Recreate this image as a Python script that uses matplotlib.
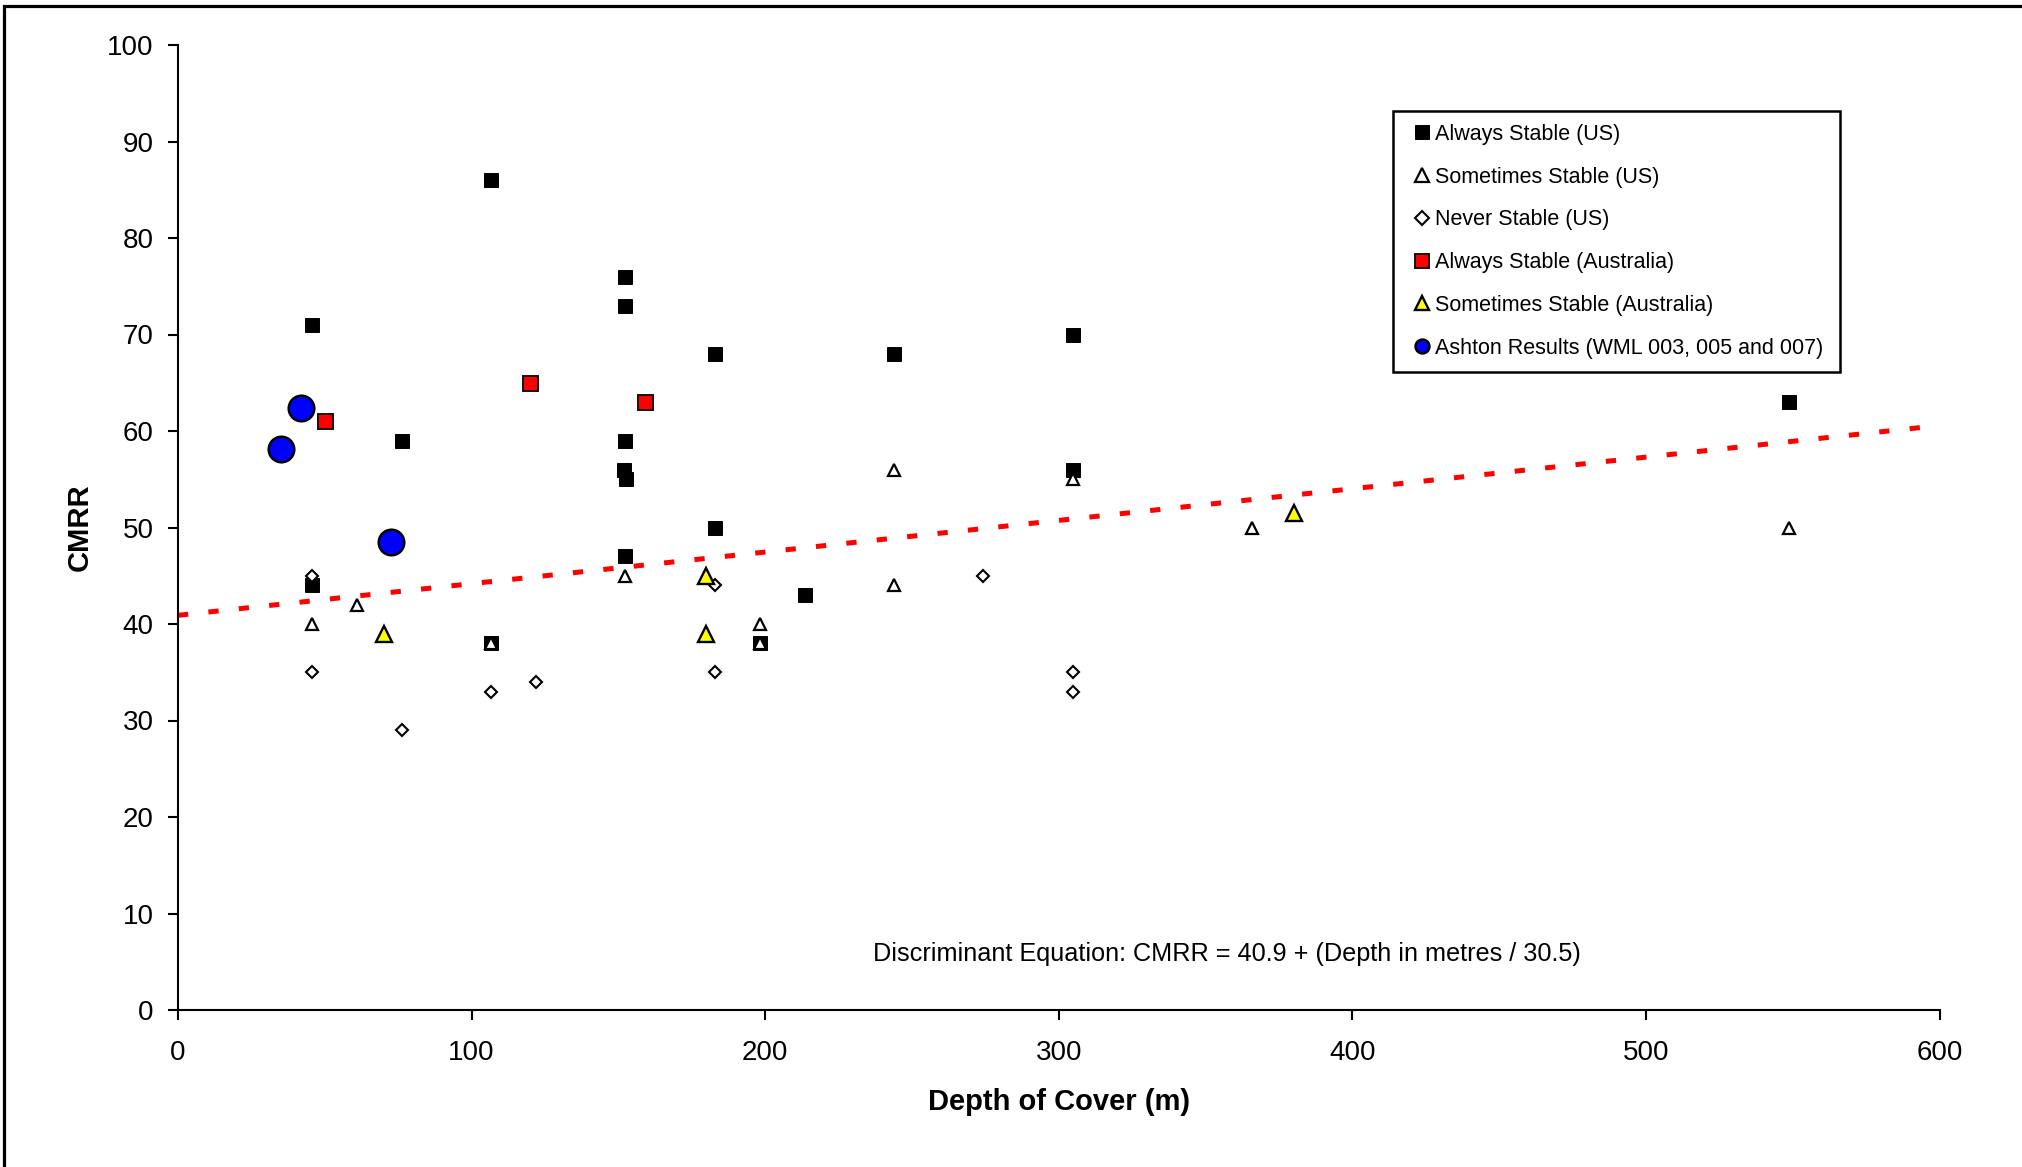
import matplotlib
matplotlib.use("Agg")
import matplotlib.pyplot as plt
from matplotlib.patches import Rectangle
import numpy as np

plt.rcParams['font.family'] = ['Liberation Sans', 'DejaVu Sans']
plt.rcParams['lines.scale_dashes'] = False

# ---- data ----
always_us_x = [45.7, 45.7, 76.2, 106.7, 106.7, 152.4, 152.4, 152.4, 151.9, 152.5, 152.4,
               182.9, 182.9, 198.1, 213.4, 243.8, 304.8, 304.8, 548.6]
always_us_y = [71, 44, 59, 86, 38, 76, 73, 59, 56, 55, 47,
               68, 50, 38, 43, 68, 70, 56, 63]

sometimes_us_x = [45.7, 61.0, 106.7, 152.4, 198.1, 198.1, 243.8, 243.8, 304.8, 365.8, 548.6]
sometimes_us_y = [40, 42, 38, 45, 40, 38, 56, 44, 55, 50, 50]

never_us_x = [45.7, 45.7, 76.2, 106.7, 121.9, 182.9, 182.9, 274.3, 304.8, 304.8]
never_us_y = [45, 35, 29, 33, 34, 44, 35, 45, 35, 33]

always_au_x = [50.0, 120.0, 159.0]
always_au_y = [61, 65, 63]

sometimes_au_x = [70.0, 180.0, 180.0, 380.0]
sometimes_au_y = [39, 45, 39, 51.5]

ashton_x = [35.0, 41.9, 72.5]
ashton_y = [58.1, 62.4, 48.5]

disc_intercept = 40.9
disc_divisor = 30.5
disc_x = [0, 600]

labels = ["Always Stable (US)", "Sometimes Stable (US)", "Never Stable (US)",
          "Always Stable (Australia)", "Sometimes Stable (Australia)",
          "Ashton Results (WML 003, 005 and 007)"]

# ---- figure ----
W, H = 2022, 1167
fig = plt.figure(figsize=(W / 100, H / 100), dpi=100)
ax_l, ax_r = 178 / W, 1939.5 / W
ax_t, ax_b = 1 - 45 / H, 1 - 1010 / H
ax = fig.add_axes([ax_l, ax_b, ax_r - ax_l, ax_t - ax_b])

# outer frame (left and top visible)
fig.patches.append(Rectangle((4 / W, -0.2), 1.5, 1.2 - 5.5 / H, transform=fig.transFigure,
                             fill=False, edgecolor='black', linewidth=2.3, zorder=0))

# discriminant line
dx = np.array(disc_x, dtype=float)
ax.plot(dx, disc_intercept + dx / disc_divisor, color='#FF0000', linewidth=3.6,
        dashes=(7.4, 14.6), dash_capstyle='butt', zorder=2, clip_on=False)

h1, = ax.plot(always_us_x, always_us_y, 's', color='black', markersize=10, markeredgewidth=0.7,
              markeredgecolor='black', label=labels[0], zorder=3)
h2, = ax.plot(sometimes_us_x, sometimes_us_y, '^', markerfacecolor='white', markeredgecolor='black',
              markersize=9, markeredgewidth=1.6, label=labels[1], zorder=4)
h3, = ax.plot(never_us_x, never_us_y, 'D', markerfacecolor='white', markeredgecolor='black',
              markersize=6.6, markeredgewidth=1.5, label=labels[2], zorder=5)
h4, = ax.plot(always_au_x, always_au_y, 's', markerfacecolor='#FF0000', markeredgecolor='#111111',
              markersize=10.8, markeredgewidth=1.4, label=labels[3], zorder=6)
h5, = ax.plot(sometimes_au_x, sometimes_au_y, '^', markerfacecolor='#FFFF00', markeredgecolor='black',
              markersize=11, markeredgewidth=1.7, label=labels[4], zorder=7)
h6, = ax.plot(ashton_x, ashton_y, 'o', markerfacecolor='#0000FF', markeredgecolor='black',
              markersize=18.4, markeredgewidth=1.8, label=labels[5], zorder=8)

ax.set_xlim(0, 600)
ax.set_ylim(0, 100)
ax.set_xticks(np.arange(0, 601, 100))
ax.set_yticks(np.arange(0, 101, 10))

for s in ['top', 'right']:
    ax.spines[s].set_visible(False)
for s in ['left', 'bottom']:
    ax.spines[s].set_linewidth(1.5)
ax.tick_params(axis='both', direction='out', length=7.5, width=1.5, labelsize=20, colors='black')
ax.tick_params(axis='x', pad=14)
ax.tick_params(axis='y', pad=10)

ax.set_xlabel("Depth of Cover (m)", fontsize=21, fontweight='bold')
ax.set_ylabel("CMRR", fontsize=21, fontweight='bold')
ax.xaxis.set_label_coords(0.5, -0.081)
ax.yaxis.set_label_coords(-0.048, 0.5)

ax.text(357.3, 5.8, "Discriminant Equation: CMRR = 40.9 + (Depth in metres / 30.5)",
        ha='center', va='center', fontsize=18.2)

leg = ax.legend(handles=[h1, h2, h3, h4, h5, h6], loc='upper left',
                bbox_to_anchor=(0.690, 0.660, 0.2535, 0.272), mode='expand',
                fontsize=15.5, frameon=True, fancybox=False, edgecolor='black', framealpha=1,
                numpoints=1, handlelength=1.4, handletextpad=-0.1, borderpad=0.62,
                labelspacing=1.01, borderaxespad=0)
leg.get_frame().set_linewidth(1.8)
ms_leg = [10, 9.5, 7, 10, 9.5, 10]
for hd, m in zip(leg.legend_handles, ms_leg):
    hd.set_markersize(m)

fig.savefig("out.png", dpi=100)
